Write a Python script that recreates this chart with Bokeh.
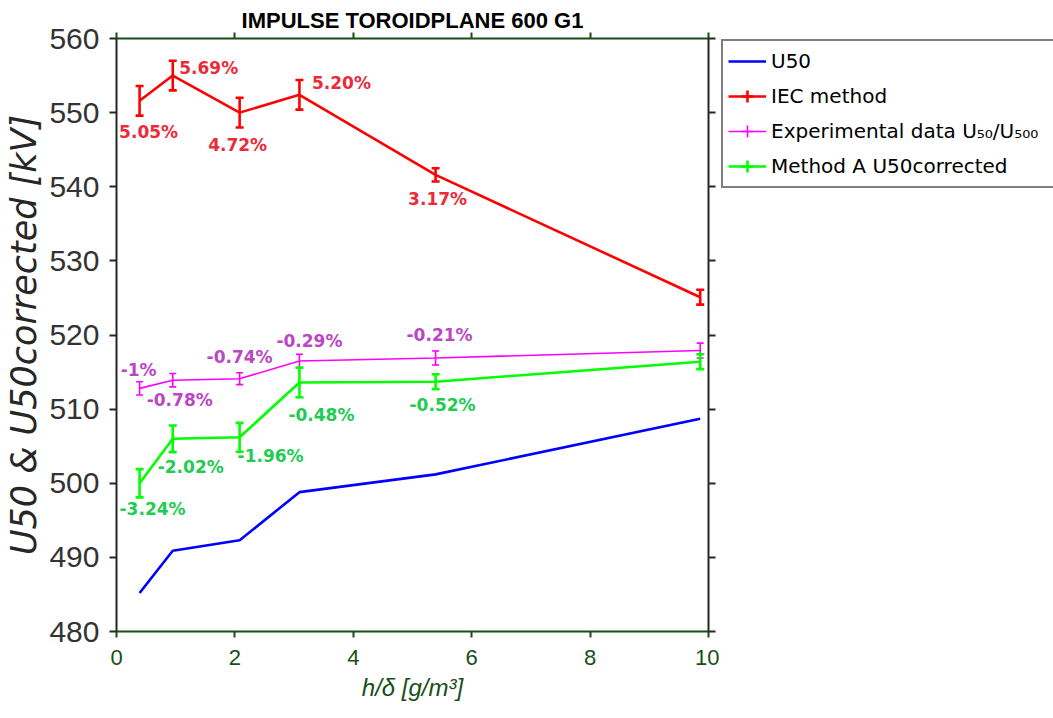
from bokeh.plotting import figure
from bokeh.layouts import row
from bokeh.core.properties import value
from bokeh.models import (ColumnDataSource, Range1d, LinearAxis, SingleIntervalTicker,
                          Whisker, TeeHead, Legend, LegendItem, LabelSet)
from bokeh.embed import file_html
from bokeh.resources import INLINE

# ---- data ---------------------------------------------------------------
title_text = "IMPULSE TOROIDPLANE 600 G1"
humidity = [0.39, 0.95, 2.08, 3.09, 5.39, 9.86]          # h/delta [g/m^3]

u50 = [485.2, 490.9, 492.3, 498.8, 501.2, 508.7]

iec = [551.6, 555.0, 550.0, 552.4, 541.6, 525.1]
iec_err = [2.0, 2.0, 2.0, 2.0, 0.9, 1.0]
iec_pct = ["5.05%", "5.69%", "4.72%", "5.20%", "3.17%", ""]

exp_data = [512.8, 513.9, 514.1, 516.5, 516.9, 517.9]
exp_err = [0.9, 0.9, 0.8, 0.9, 0.95, 1.0]
exp_pct = ["-1%", "-0.78%", "-0.74%", "-0.29%", "-0.21%", ""]

method_a = [500.0, 506.0, 506.2, 513.6, 513.7, 516.4]
method_a_err = [1.9, 1.8, 1.95, 2.0, 1.0, 1.0]
method_a_pct = ["-3.24%", "-2.02%", "-1.96%", "-0.48%", "-0.52%", ""]

series_names = ["U50", "IEC method", "Experimental data U₅₀/U₅₀₀", "Method A U50corrected"]

# ---- label placement (screen pixels, +dy = downwards) --------------------
iec_dx = [9, 36, -2, 42, 2, 0]
iec_dy = [31, -8, 32, -12, 24, 0]
exp_dx = [-1, 7, 0, 10, 4, 0]
exp_dy = [-18, 20, -22, -20, -23, 0]
ma_dx = [13, 18, 31, 22, 7, 0]
ma_dy = [26, 28, 19, 33, 23, 0]

AX_GREEN = "#174f17"
AX_DARK = "#262626"
BLUE, RED, MAGENTA, GREEN = "#0000ff", "#ff0000", "#ff00ff", "#00ff00"

p = figure(width=719, height=718,
           x_range=Range1d(0, 10), y_range=Range1d(480, 560),
           output_backend="svg", toolbar_location=None,
           min_border_left=116, min_border_right=11, min_border_top=38, min_border_bottom=87,
           x_axis_label="h/δ [g/m³]", y_axis_label="U50 & U50corrected [kV]",
           title=title_text)
p.grid.visible = False
p.outline_line_color = None
p.background_fill_color = "white"
p.border_fill_color = "white"

p.title.align = "center"
p.title.text_font = "Liberation Sans"
p.title.text_font_style = "bold"
p.title.text_font_size = "22px"
p.title.text_color = "black"
p.title.standoff = 0
p.title.offset = 0

# bottom axis
xa = p.xaxis[0]
xa.ticker = SingleIntervalTicker(interval=2)
xa.axis_line_color = AX_GREEN
xa.axis_line_width = 2
xa.major_tick_line_color = AX_GREEN
xa.major_tick_line_width = 2
xa.major_tick_out = 6
xa.major_tick_in = 0
xa.minor_tick_line_color = None
xa.major_label_text_font = "Liberation Sans"
xa.major_label_text_font_size = "22px"
xa.major_label_text_color = AX_GREEN
xa.major_label_standoff = 12
xa.axis_label_text_font = "Liberation Sans"
xa.axis_label_text_font_style = "italic"
xa.axis_label_text_font_size = "24px"
xa.axis_label_text_color = AX_GREEN
xa.axis_label_standoff = 6

# left axis
ya = p.yaxis[0]
ya.ticker = SingleIntervalTicker(interval=10)
ya.axis_line_color = AX_DARK
ya.axis_line_width = 2
ya.major_tick_line_color = AX_DARK
ya.major_tick_line_width = 2
ya.major_tick_out = 7
ya.major_tick_in = 0
ya.minor_tick_line_color = None
ya.major_label_text_font = "Liberation Sans"
ya.major_label_text_font_size = "30px"
ya.major_label_text_color = "#333333"
ya.major_label_standoff = 10
ya.axis_label_text_font = "DejaVu Sans"
ya.axis_label_text_font_style = "italic"
ya.axis_label_text_font_size = "35px"
ya.axis_label_text_color = AX_DARK
ya.axis_label_standoff = 2

# box axes on top and right (ticks only)
top = LinearAxis(ticker=SingleIntervalTicker(interval=2), axis_line_color=AX_GREEN,
                 axis_line_width=2, major_tick_line_color=AX_GREEN, major_tick_line_width=2,
                 major_tick_out=6, major_tick_in=0, minor_tick_line_color=None,
                 major_label_text_color=None, major_label_text_font_size="1px",
                 major_label_standoff=0)
p.add_layout(top, "above")
right = LinearAxis(ticker=SingleIntervalTicker(interval=10), axis_line_color=AX_DARK,
                   axis_line_width=2, major_tick_line_color=AX_DARK, major_tick_line_width=2,
                   major_tick_out=7, major_tick_in=0, minor_tick_line_color=None,
                   major_label_text_color=None, major_label_text_font_size="1px",
                   major_label_standoff=0)
p.add_layout(right, "right")


def series(values, errs, pct, dx, dy, line_color, text_color, lw, cap):
    src = ColumnDataSource(dict(
        x=humidity, y=values,
        upper=[v + e for v, e in zip(values, errs)],
        lower=[v - e for v, e in zip(values, errs)],
        label=pct, dx=dx, ndy=[-d for d in dy]))
    p.line("x", "y", source=src, line_color=line_color, line_width=lw)
    p.add_layout(Whisker(source=src, base="x", upper="upper", lower="lower",
                         dimension="height", line_color=line_color, line_width=lw,
                         upper_head=TeeHead(size=cap, line_color=line_color, line_width=lw),
                         lower_head=TeeHead(size=cap, line_color=line_color, line_width=lw)))
    p.add_layout(LabelSet(source=src, x="x", y="y", text="label",
                          x_offset="dx", y_offset="ndy",
                          text_font=value("DejaVu Sans"), text_font_style="bold",
                          text_font_size="17px", text_color=text_color,
                          text_align="center", text_baseline="middle"))


p.line(humidity, u50, line_color=BLUE, line_width=2.6)
series(iec, iec_err, iec_pct, iec_dx, iec_dy, RED, "#ec2a3a", 2.6, 8)
series(exp_data, exp_err, exp_pct, exp_dx, exp_dy, MAGENTA, "#bb47c4", 1.6, 7)
series(method_a, method_a_err, method_a_pct, ma_dx, ma_dy, GREEN, "#1ecc52", 2.6, 8)

# ---- legend panel to the right of the axes ---------------------------------
# The key glyphs reuse the series data; the panel's unit ranges keep them out of view
# so only the legend itself shows.
lg = figure(width=334, height=718, x_range=Range1d(0, 1), y_range=Range1d(0, 1),
            output_backend="svg", toolbar_location=None,
            min_border_left=0, min_border_right=0, min_border_top=0, min_border_bottom=0)
lg.axis.visible = False
lg.grid.visible = False
lg.outline_line_color = None
lg.background_fill_color = "white"
lg.border_fill_color = "white"


def key(values, color, lw, with_bar):
    rs = [lg.line(humidity, values, line_color=color, line_width=lw)]
    if with_bar:
        rs.append(lg.scatter(humidity, values, marker="cross", size=12,
                             line_color=color, line_width=lw))
    return rs


items = [
    LegendItem(label=series_names[0], renderers=key(u50, BLUE, 2.6, False)),
    LegendItem(label=series_names[1], renderers=key(iec, RED, 2.6, True)),
    LegendItem(label=series_names[2], renderers=key(exp_data, MAGENTA, 1.6, True)),
    LegendItem(label=series_names[3], renderers=key(method_a, GREEN, 2.6, True)),
]
legend = Legend(items=items, location=(2, 443), orientation="vertical",
                glyph_width=38, glyph_height=30, label_standoff=5, label_width=300,
                padding=5, spacing=5, margin=0,
                label_text_font="DejaVu Sans", label_text_font_size="20px",
                label_text_color="black",
                border_line_color="black", border_line_width=2,
                background_fill_color="white", background_fill_alpha=1.0)
lg.add_layout(legend)

layout = row(p, lg, spacing=0)
open("out.html", "w").write(file_html(layout, INLINE))
